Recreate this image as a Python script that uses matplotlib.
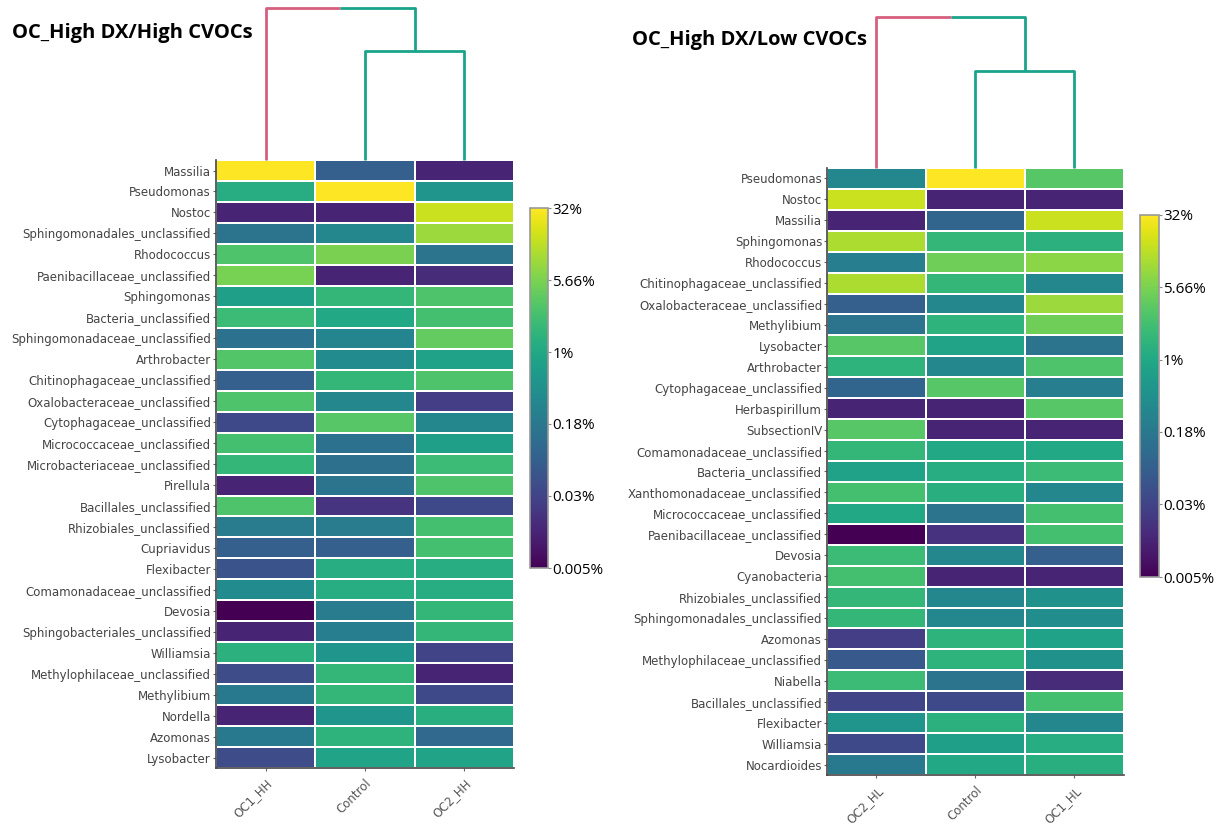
import numpy as np
import matplotlib
matplotlib.use("Agg")
import matplotlib.pyplot as plt
from matplotlib.colors import LogNorm

# Datos: abundancia relativa (%) por taxón y muestra
hh_title = "OC_High DX/High CVOCs"
hh_samples = ["OC1_HH", "Control", "OC2_HH"]
hh_taxa = ["Massilia", "Pseudomonas", "Nostoc", "Sphingomonadales_unclassified",
           "Rhodococcus", "Paenibacillaceae_unclassified", "Sphingomonas",
           "Bacteria_unclassified", "Sphingomonadaceae_unclassified", "Arthrobacter",
           "Chitinophagaceae_unclassified", "Oxalobacteraceae_unclassified",
           "Cytophagaceae_unclassified", "Micrococcaceae_unclassified",
           "Microbacteriaceae_unclassified", "Pirellula", "Bacillales_unclassified",
           "Rhizobiales_unclassified", "Cupriavidus", "Flexibacter",
           "Comamonadaceae_unclassified", "Devosia", "Sphingobacteriales_unclassified",
           "Williamsia", "Methylophilaceae_unclassified", "Methylibium", "Nordella",
           "Azomonas", "Lysobacter"]
hh_oc1 = [32, 1.2, 0.013, 0.15, 2.8, 5.5, 0.7, 2.0, 0.14, 3.0, 0.074, 2.8, 0.037, 2.4,
          1.7, 0.013, 2.8, 0.2, 0.074, 0.05, 0.35, 0.0055, 0.013, 1.4, 0.04, 0.18,
          0.013, 0.18, 0.04]
hh_ctrl = [0.074, 32, 0.013, 0.3, 5.66, 0.013, 1.7, 1.0, 0.28, 0.35, 1.7, 0.3, 3.3, 0.14,
           0.13, 0.15, 0.02, 0.2, 0.074, 1.2, 1.2, 0.2, 0.22, 0.5, 1.7, 1.7, 0.5, 1.5, 0.85]
hh_oc2 = [0.013, 0.5, 16, 8.7, 0.15, 0.016, 2.8, 2.4, 4.0, 0.8, 2.8, 0.027, 0.3, 0.7,
          2.0, 2.8, 0.037, 2.4, 2.4, 1.2, 1.2, 1.7, 1.7, 0.031, 0.013, 0.037, 1.3, 0.1,
          0.85]
hh_links = [0.72, 1.0]  # altura de unión (Control+OC2), (OC1+resto)

hl_title = "OC_High DX/Low CVOCs"
hl_samples = ["OC2_HL", "Control", "OC1_HL"]
hl_taxa = ["Pseudomonas", "Nostoc", "Massilia", "Sphingomonas", "Rhodococcus",
           "Chitinophagaceae_unclassified", "Oxalobacteraceae_unclassified",
           "Methylibium", "Lysobacter", "Arthrobacter", "Cytophagaceae_unclassified",
           "Herbaspirillum", "SubsectionIV", "Comamonadaceae_unclassified",
           "Bacteria_unclassified", "Xanthomonadaceae_unclassified",
           "Micrococcaceae_unclassified", "Paenibacillaceae_unclassified", "Devosia",
           "Cyanobacteria", "Rhizobiales_unclassified", "Sphingomonadales_unclassified",
           "Azomonas", "Methylophilaceae_unclassified", "Niabella",
           "Bacillales_unclassified", "Flexibacter", "Williamsia", "Nocardioides"]
hl_oc2 = [0.3, 16, 0.013, 11, 0.22, 11, 0.074, 0.15, 3.3, 1.5, 0.09, 0.013, 3.3, 1.7,
          0.8, 2.4, 1.0, 0.0055, 2.0, 2.4, 1.7, 1.7, 0.027, 0.06, 2.0, 0.031, 0.5,
          0.037, 0.18]
hl_ctrl = [32, 0.013, 0.09, 1.7, 4.8, 1.7, 0.3, 1.5, 0.85, 0.3, 3.3, 0.013, 0.013, 1.0,
           1.2, 1.3, 0.15, 0.019, 0.3, 0.013, 0.3, 0.3, 1.5, 1.5, 0.15, 0.037, 1.4,
           0.7, 1.0]
hl_oc1 = [3.3, 0.013, 16, 1.4, 7.0, 0.3, 8.7, 4.8, 0.15, 2.8, 0.22, 3.3, 0.013, 1.0,
          2.0, 0.3, 2.4, 2.4, 0.074, 0.013, 0.42, 0.38, 0.8, 0.42, 0.016, 2.4, 0.3,
          1.2, 1.3]
hl_links = [0.64, 1.0]

cbar_ticks = [0.0055, 0.0313, 0.177, 1, 5.66, 32]
cbar_labels = ["0.005%", "0.03%", "0.18%", "1%", "5.66%", "32%"]

RED = "#d65f7d"
GREEN = "#1aa38a"
norm = LogNorm(vmin=0.0055, vmax=32)


def draw_panel(fig, hm_rect, dn_rect, cb_rect, title, title_xy, samples, taxa, cols, links):
    data = np.array(cols).T  # filas = taxa, columnas = muestras
    ax = fig.add_axes(hm_rect)
    nrow, ncol = data.shape
    mesh = ax.pcolormesh(np.arange(ncol + 1), np.arange(nrow + 1), data[::-1],
                         cmap="viridis", norm=norm, edgecolors="white", linewidth=1.3)
    ax.set_xlim(0, ncol)
    ax.set_ylim(0, nrow)
    ax.set_xticks(np.arange(ncol) + 0.5)
    ax.set_xticklabels(samples, rotation=45, ha="right", rotation_mode="anchor",
                       fontsize=8.5, color="#555555")
    ax.set_yticks(np.arange(nrow) + 0.5)
    ax.set_yticklabels(taxa[::-1], fontsize=8.5, color="#444444")
    ax.tick_params(axis="both", length=2.5, width=0.8, color="#666666", pad=1)
    ax.tick_params(axis="x", pad=4)
    for s in ["top", "right"]:
        ax.spines[s].set_visible(False)
    for s in ["left", "bottom"]:
        ax.spines[s].set_color("#444444")
        ax.spines[s].set_linewidth(1.2)

    # dendrograma de columnas
    dn = fig.add_axes(dn_rect)
    dn.set_xlim(0, ncol)
    dn.set_ylim(0, links[1])
    dn.axis("off")
    x0, x1, x2 = 0.5, 1.5, 2.5
    xm = (x1 + x2) / 2
    kw = dict(lw=2, clip_on=False, solid_capstyle="butt")
    dn.plot([x1, x1, x2, x2], [0, links[0], links[0], 0], color=GREEN, **kw)
    dn.plot([x0, x0, (x0 + xm) / 2], [0, links[1], links[1]], color=RED, **kw)
    dn.plot([(x0 + xm) / 2, xm, xm], [links[1], links[1], links[0]], color=GREEN, **kw)

    fig.text(title_xy[0], title_xy[1], title, fontsize=14.5, fontweight="bold",
             family="Open Sans", ha="left", va="center")

    cax = fig.add_axes(cb_rect)
    cb = fig.colorbar(mesh, cax=cax, ticks=cbar_ticks)
    cb.ax.minorticks_off()
    cb.ax.set_yticklabels(cbar_labels, family="Open Sans", fontsize=11)
    cb.ax.tick_params(length=2, width=0.8, color="#888888", pad=1)
    cb.outline.set_edgecolor("#999999")
    cb.outline.set_linewidth(1.2)


fig = plt.figure(figsize=(12.27, 8.25), dpi=100)

draw_panel(fig, [0.176, 0.069, 0.243, 0.737], [0.176, 0.806, 0.243, 0.184],
           [0.432, 0.3115, 0.0147, 0.436], hh_title, (0.01, 0.96),
           hh_samples, hh_taxa, [hh_oc1, hh_ctrl, hh_oc2], hh_links)
draw_panel(fig, [0.674, 0.0606, 0.242, 0.7358], [0.674, 0.7964, 0.242, 0.183],
           [0.929, 0.3006, 0.0155, 0.439], hl_title, (0.515, 0.951),
           hl_samples, hl_taxa, [hl_oc2, hl_ctrl, hl_oc1], hl_links)

fig.savefig("out.png", dpi=100)
